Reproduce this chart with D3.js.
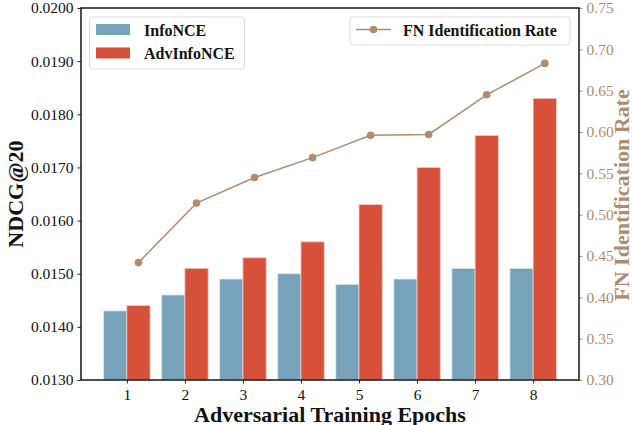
<!DOCTYPE html>
<html><head><meta charset="utf-8">
<script src="https://cdn.jsdelivr.net/npm/d3@7"></script>
<style>body{margin:0;background:#fff}svg{display:block}</style>
</head><body>
<svg id="chart" width="634" height="425"></svg>
<script>
const epochs = [1,2,3,4,5,6,7,8];
const infoNCE = [0.0143,0.0146,0.0149,0.0150,0.0148,0.0149,0.0151,0.0151];
const advInfoNCE = [0.0144,0.0151,0.0153,0.0156,0.0163,0.0170,0.0176,0.0183];
const fnRate = [0.442,0.514,0.545,0.569,0.596,0.597,0.645,0.683];
const leftTicks = [0.0130,0.0140,0.0150,0.0160,0.0170,0.0180,0.0190,0.0200];
const rightTicks = [0.30,0.35,0.40,0.45,0.50,0.55,0.60,0.65,0.70,0.75];

const W=634,H=425, L=81, R=579, T=8, B=380;
const FONT='"Liberation Serif","Times New Roman",serif';
const cBlue='#76a3ba', cRed='#d6503a', cBrown='#b08b6d';
const svg=d3.select('#chart');
const x=d3.scaleLinear().domain([0.21,8.79]).range([L,R]);
const yL=d3.scaleLinear().domain([0.013,0.020]).range([B,T]);
const yR=d3.scaleLinear().domain([0.30,0.75]).range([B,T]);
const bw=0.4;

const g=svg.append('g');
g.selectAll('rect.info').data(epochs).join('rect')
 .attr('x',(d,i)=>x(d-bw)).attr('width',x(bw)-x(0))
 .attr('y',(d,i)=>yL(infoNCE[i])).attr('height',(d,i)=>B-yL(infoNCE[i]))
 .attr('fill',cBlue).attr('stroke','#dde8ee').attr('stroke-width',0.8);
g.selectAll('rect.adv').data(epochs).join('rect')
 .attr('x',(d,i)=>x(d)).attr('width',x(bw)-x(0))
 .attr('y',(d,i)=>yL(advInfoNCE[i])).attr('height',(d,i)=>B-yL(advInfoNCE[i]))
 .attr('fill',cRed).attr('stroke','#f0c8c0').attr('stroke-width',0.8);

const line=d3.line().x((d,i)=>x(epochs[i]+bw/2)).y(d=>yR(d));
g.append('path').datum(fnRate).attr('d',line).attr('fill','none').attr('stroke',cBrown).attr('stroke-width',1.5);
g.selectAll('circle').data(fnRate).join('circle')
 .attr('cx',(d,i)=>x(epochs[i]+bw/2)).attr('cy',d=>yR(d)).attr('r',3.8).attr('fill',cBrown);

// axes
const axL=svg.append('g').attr('transform',`translate(${L},0)`)
 .call(d3.axisLeft(yL).tickValues(leftTicks).tickFormat(d3.format('.4f')).tickSize(3.5).tickPadding(4));
const axR=svg.append('g').attr('transform',`translate(${R},0)`)
 .call(d3.axisRight(yR).tickValues(rightTicks).tickFormat(d3.format('.2f')).tickSize(3.5).tickPadding(4));
const axB=svg.append('g').attr('transform',`translate(0,${B})`)
 .call(d3.axisBottom(x).tickValues(epochs).tickFormat(d3.format('d')).tickSize(3.5).tickPadding(5));
[axL,axR,axB].forEach(a=>{a.selectAll('text').style('font-family',FONT).style('font-size','15.5px');
 a.select('.domain').remove();});
axL.selectAll('line').attr('stroke','#222');axL.selectAll('text').attr('fill','#111');
axB.selectAll('line').attr('stroke','#222');axB.selectAll('text').attr('fill','#111');
axR.selectAll('line').attr('stroke',cBrown);axR.selectAll('text').attr('fill',cBrown);
// frame
svg.append('rect').attr('x',L).attr('y',T).attr('width',R-L).attr('height',B-T)
 .attr('fill','none').attr('stroke','#222').attr('stroke-width',1.6);

// labels
svg.append('text').attr('transform',`translate(23,${(T+B)/2}) rotate(-90)`).attr('text-anchor','middle')
 .style('font-family',FONT).style('font-weight','bold').style('font-size','22px').attr('fill','#111').text('NDCG@20');
svg.append('text').attr('transform',`translate(629,${(T+B)/2+1}) rotate(-90)`).attr('text-anchor','middle')
 .style('font-family',FONT).style('font-weight','bold').style('font-size','22px').attr('fill',cBrown).text('FN Identification Rate');
svg.append('text').attr('x',(L+R)/2).attr('y',421.5).attr('text-anchor','middle')
 .style('font-family',FONT).style('font-weight','bold').style('font-size','22px').attr('fill','#111').text('Adversarial Training Epochs');

// legend 1
const lg1=svg.append('g');
lg1.append('rect').attr('x',89.5).attr('y',17).attr('width',155).attr('height',52).attr('rx',3)
 .attr('fill','#fff').attr('fill-opacity',0.85).attr('stroke','#ddd');
const legItems=[['InfoNCE',cBlue],['AdvInfoNCE',cRed]];
legItems.forEach((it,i)=>{
 lg1.append('rect').attr('x',96).attr('y',24+i*23.5).attr('width',34).attr('height',11).attr('fill',it[1]);
 lg1.append('text').attr('x',144).attr('y',35.5+i*23.5).style('font-family',FONT).style('font-weight','bold')
  .style('font-size','16px').attr('fill','#111').text(it[0]);
});
// legend 2
const lg2=svg.append('g');
lg2.append('rect').attr('x',350).attr('y',17).attr('width',220).attr('height',28).attr('rx',3)
 .attr('fill','#fff').attr('fill-opacity',0.85).attr('stroke','#ddd');
lg2.append('line').attr('x1',356).attr('x2',391).attr('y1',29.5).attr('y2',29.5).attr('stroke',cBrown).attr('stroke-width',1.5);
lg2.append('circle').attr('cx',373.5).attr('cy',29.5).attr('r',3.8).attr('fill',cBrown);
lg2.append('text').attr('x',403).attr('y',35.5).style('font-family',FONT).style('font-weight','bold')
 .style('font-size','16px').attr('fill','#111').text('FN Identification Rate');
</script>
</body></html>
